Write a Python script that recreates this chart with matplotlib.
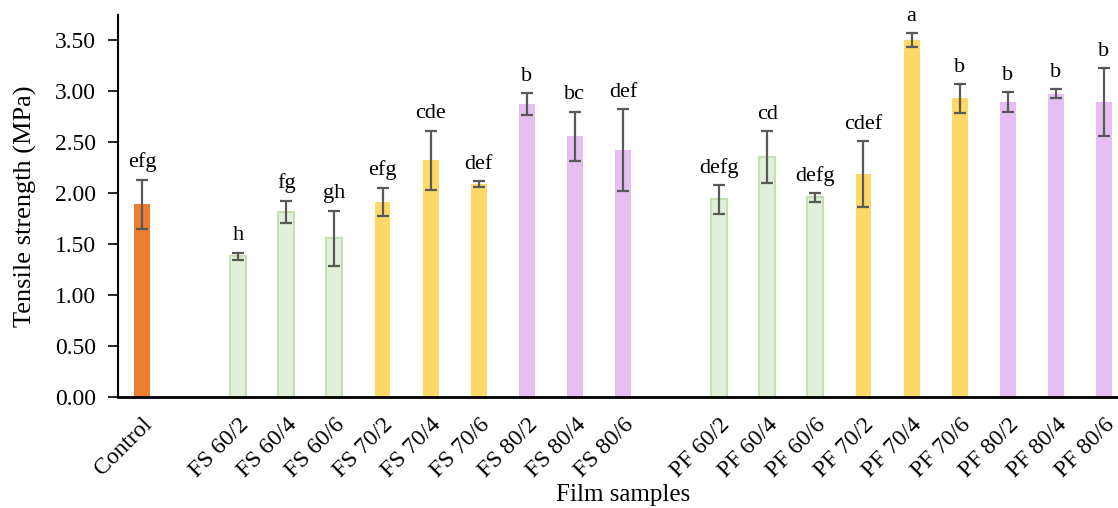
import matplotlib.pyplot as plt
import numpy as np

plt.rcParams['font.family'] = ['Liberation Serif', 'DejaVu Serif']

# categories ('' = empty gap slot)
labels = ['Control', '',
          'FS 60/2', 'FS 60/4', 'FS 60/6', 'FS 70/2', 'FS 70/4', 'FS 70/6',
          'FS 80/2', 'FS 80/4', 'FS 80/6', '',
          'PF 60/2', 'PF 60/4', 'PF 60/6', 'PF 70/2', 'PF 70/4', 'PF 70/6',
          'PF 80/2', 'PF 80/4', 'PF 80/6']

means = [1.89, None,
         1.38, 1.815, 1.555, 1.91, 2.32, 2.085, 2.867, 2.554, 2.417, None,
         1.938, 2.352, 1.955, 2.183, 3.493, 2.926, 2.887, 2.972, 2.887]

errs = [0.24, None,
        0.035, 0.11, 0.27, 0.14, 0.29, 0.03, 0.11, 0.24, 0.40, None,
        0.14, 0.255, 0.045, 0.32, 0.07, 0.14, 0.10, 0.045, 0.33]

letters = ['efg', '',
           'h', 'fg', 'gh', 'efg', 'cde', 'def', 'b', 'bc', 'def', '',
           'defg', 'cd', 'defg', 'cdef', 'a', 'b', 'b', 'b', 'b']

groups = ['ctrl', '',
          'g60', 'g60', 'g60', 'g70', 'g70', 'g70', 'g80', 'g80', 'g80', '',
          'g60', 'g60', 'g60', 'g70', 'g70', 'g70', 'g80', 'g80', 'g80']

fill = {'ctrl': '#ED7D31', 'g60': '#E2EFDA', 'g70': '#FFD966', 'g80': '#E6BEF2'}
edge = {'ctrl': 'none', 'g60': '#C5E0B4', 'g70': 'none', 'g80': 'none'}

fig = plt.figure(figsize=(11.18, 5.08), dpi=100)
ax = fig.add_axes([118/1118, 1 - 397.3/508, 1010/1118, (397.3 - 15)/508])

x = np.arange(len(labels))
for i in range(len(labels)):
    if means[i] is None:
        continue
    g = groups[i]
    ax.bar(x[i], means[i], width=0.33, color=fill[g], edgecolor=edge[g],
           linewidth=1.5 if edge[g] != 'none' else 0, zorder=2)
    ax.errorbar(x[i], means[i], yerr=errs[i], fmt='none', ecolor='#595959',
                elinewidth=1.6, capsize=4, capthick=1.6, zorder=3)
    ax.text(x[i], means[i] + errs[i] + 0.12, letters[i], ha='center',
            va='baseline', fontsize=16)

ax.set_xlim(-0.5, 20.5)
ax.set_ylim(0, 3.74)
ax.set_yticks(np.arange(0, 3.51, 0.5))
ax.set_yticklabels(['%.2f' % v for v in np.arange(0, 3.51, 0.5)], fontsize=17)

ticks = [i for i in range(len(labels)) if labels[i] != '']
ax.set_xticks(ticks)
ax.set_xticklabels([labels[i] for i in ticks], rotation=45, ha='right',
                   rotation_mode='anchor', fontsize=17)
ax.tick_params(axis='x', length=0, pad=12)
ax.tick_params(axis='y', length=7, width=1.2, direction='out', pad=9)

for s in ['top', 'right']:
    ax.spines[s].set_visible(False)
ax.spines['left'].set_linewidth(1.5)
ax.spines['bottom'].set_linewidth(2)

ax.set_ylabel('Tensile strength (MPa)', fontsize=19, labelpad=13)
ax.set_xlabel('Film samples', fontsize=18, labelpad=2)

fig.savefig('out.png', dpi=100)
